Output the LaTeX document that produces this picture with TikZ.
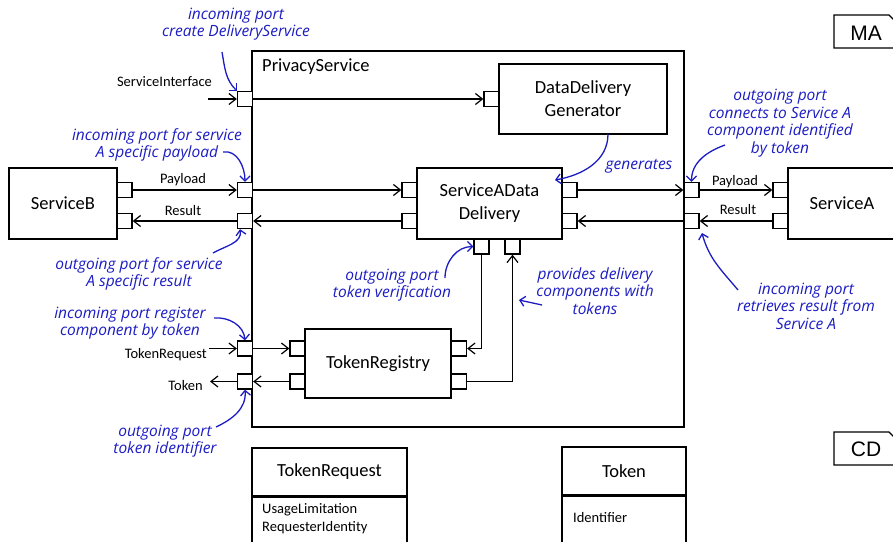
\documentclass[tikz,border=0pt]{standalone}
\usepackage{fontspec}
\usepackage{tikz}
\usetikzlibrary{arrows.meta}
\setmainfont{Carlito}
\newfontfamily\notefont{Open Sans}
\newfontfamily\tagfont{Liberation Sans}
\definecolor{noteblue}{RGB}{28,28,195}

\begin{document}
\begin{tikzpicture}[x=1pt, y=-1pt,
    box/.style={draw, line width=1.4pt, inner sep=0pt, align=center, font=\fontsize{18.5}{23}\selectfont},
    title/.style={inner sep=0pt, font=\fontsize{18.5}{23}\selectfont},
    port/.style={draw, fill=white, line width=1.3pt, minimum size=15pt, inner sep=0pt},
    flow/.style={line width=1.2pt, -{Straight Barb[length=7pt, width=11pt]}},
    small/.style={inner sep=0pt, font=\fontsize{14.5}{17}\selectfont},
    note/.style={text=noteblue, align=center, inner sep=0pt, font=\notefont\itshape\fontsize{15.5}{17.5}\selectfont},
    notearrow/.style={draw=noteblue, line width=1.3pt, -{Straight Barb[length=5pt, width=10pt]}}
    ]
    \useasboundingbox (0,0) rectangle (893,541);

    % Components
    \node[box, minimum width=432pt, minimum height=376pt] (PS) at (468,239) {};
    \node[title, anchor=west] (PSname) at (262,67) {PrivacyService};
    \node[box, minimum width=168pt, minimum height=70pt] (DDG) at (583,99) {DataDelivery\\Generator};
    \node[box, minimum width=145pt, minimum height=71pt] (SADD) at (489.5,203.5) {ServiceAData\\Delivery};
    \node[box, minimum width=108pt, minimum height=71pt] (SB) at (63,203.5) {ServiceB};
    \node[box, minimum width=108pt, minimum height=71pt] (SA) at (842,203.5) {ServiceA};
    \node[box, minimum width=146pt, minimum height=69pt] (TR) at (378,363.5) {TokenRegistry};

    % Ports
    \node[port] (psSI) at (245,99) {};
    \node[port] (ddgIn) at (491.5,99) {};
    \node[port] (sbPay) at (124.5,190) {};
    \node[port] (sbRes) at (124.5,221) {};
    \node[port] (psPayIn) at (245,190) {};
    \node[port] (psResOut) at (245,221) {};
    \node[port] (saddPayIn) at (409.5,190) {};
    \node[port] (saddResOut) at (409.5,221) {};
    \node[port] (saddPayOut) at (569.5,190) {};
    \node[port] (saddResIn) at (569.5,221) {};
    \node[port] (psPayOut) at (691.5,190) {};
    \node[port] (psResIn) at (691.5,221) {};
    \node[port] (saPay) at (780.5,190) {};
    \node[port] (saRes) at (780.5,221) {};
    \node[port] (saddTokV) at (481.5,246.5) {};
    \node[port] (saddTokP) at (512.5,246.5) {};
    \node[port] (psTReq) at (245,348.5) {};
    \node[port] (psTok) at (245,381.5) {};
    \node[port] (trReqIn) at (297.5,348.5) {};
    \node[port] (trTokOut) at (297.5,381.5) {};
    \node[port] (trVerIn) at (459,348.5) {};
    \node[port] (trTokP) at (459,381.5) {};

    % Labels
    \node[small] (lblSI) at (164.5,82) {ServiceInterface};
    \node[small] (lblPayB) at (183,180) {Payload};
    \node[small] (lblResB) at (183,211) {Result};
    \node[small] (lblPayA) at (735,182) {Payload};
    \node[small] (lblResA) at (738,210) {Result};
    \node[small, anchor=east] (lblTReq) at (207,355) {TokenRequest};
    \node[small, anchor=east] (lblTok) at (203,386) {Token};
    \coordinate (siIn) at (208,99);
    \coordinate (treqIn) at (209,348.5);
    \coordinate (tokOut) at (210,381.5);

    % Edges
    \draw[flow] (siIn) -- (psSI.west);
    \draw[flow] (psSI.east) -- (ddgIn.west);
    \draw[flow] (sbPay.east) -- (psPayIn.west);
    \draw[flow] (psResOut.west) -- (sbRes.east);
    \draw[flow] (psPayIn.east) -- (saddPayIn.west);
    \draw[flow] (saddResOut.west) -- (psResOut.east);
    \draw[flow] (saddPayOut.east) -- (psPayOut.west);
    \draw[flow] (psPayOut.east) -- (saPay.west);
    \draw[flow] (saRes.west) -- (psResIn.east);
    \draw[flow] (psResIn.west) -- (saddResIn.east);
    \draw[flow] (treqIn) -- (psTReq.west);
    \draw[flow] (psTok.west) -- (tokOut);
    \draw[flow] (psTReq.east) -- (trReqIn.west);
    \draw[flow] (trTokOut.west) -- (psTok.east);
    \draw[flow] (saddTokV.south) |- (trVerIn.east);
    \draw[flow] (trTokP.east) -| (saddTokP.south);

    % Classes
    \node[box, minimum width=155pt, minimum height=48pt] (TRQhead) at (329.5,472) {TokenRequest};
    \node[box, minimum width=155pt, minimum height=70pt, anchor=north] (TRQbody) at (TRQhead.south) {};
    \node[small, anchor=west] (TRQa1) at (262,510) {UsageLimitation};
    \node[small, anchor=west] (TRQa2) at (262,528) {RequesterIdentity};
    \node[box, minimum width=124pt, minimum height=48pt] (TOKhead) at (624,471) {Token};
    \node[box, minimum width=124pt, minimum height=70pt, anchor=north] (TOKbody) at (TOKhead.south) {};
    \node[small, anchor=west] (TOKa1) at (573,518) {Identifier};

    % Diagram tags
    \draw[line width=1.2pt] (834,15) -- (889,15) -- (897,23) -- (897,48) -- (834,48) -- cycle;
    \node[font=\tagfont\fontsize{21}{21}\selectfont] (MA) at (866,33) {MA};
    \draw[line width=1.2pt] (834,432) -- (889,432) -- (897,440) -- (897,465) -- (834,465) -- cycle;
    \node[font=\tagfont\fontsize{21}{21}\selectfont] (CD) at (866,449) {CD};

    % Notes
    \node[note] (n1) at (236,24) {incoming port\\create DeliveryService};
    \node[note] (n2) at (157,145) {incoming port for service\\A specific payload};
    \node[note] (n3) at (139,274) {outgoing port for service\\A specific result};
    \node[note] (n4) at (130,323) {incoming port register\\component by token};
    \node[note] (n5) at (165,441) {outgoing port\\token identifier};
    \node[note] (n6) at (639,166) {generates};
    \node[note] (n7) at (780,123) {outgoing port\\connects to Service A\\component identified\\by token};
    \node[note] (n8) at (806,306) {incoming port\\retrieves result from\\Service A};
    \node[note] (n9) at (392,285) {outgoing port\\token verification};
    \node[note] (n10) at (595,291) {provides delivery\\components with\\tokens};
    \coordinate (n1s) at (222,52);
    \coordinate (n2s) at (223,152);
    \coordinate (n3s) at (213,253);
    \coordinate (n4s) at (214,318);
    \coordinate (n5s) at (216,427);
    \coordinate (n6s) at (608,134);
    \coordinate (n6e) at (555,180);
    \coordinate (n7s) at (725,145);
    \coordinate (n8s) at (738,290);
    \coordinate (n8e) at (702,233);
    \coordinate (n9s) at (445,278);
    \coordinate (n10s) at (542,305);
    \coordinate (n10e) at (519,300);

    \draw[notearrow] (n1s) to[out=-80, in=135] (psSI.north west);
    \draw[notearrow] (n2s) to[out=10, in=90] (psPayIn.north);
    \draw[notearrow] (n3s) to[out=30, in=-80] ([xshift=-5pt]psResOut.south);
    \draw[notearrow] (n4s) to[out=5, in=95] (psTReq.north);
    \draw[notearrow] (n5s) to[out=25, in=-85] (psTok.south);
    \draw[notearrow] (n6s) to[out=-90, in=10] (n6e);
    \draw[notearrow] (n7s) to[out=200, in=90] (psPayOut.north);
    \draw[notearrow] (n8s) to[out=130, in=-75] (n8e);
    \draw[notearrow] (n9s) to[out=90, in=180] (saddTokV.west);
    \draw[notearrow] (n10s) -- (n10e);
\end{tikzpicture}
\end{document}
